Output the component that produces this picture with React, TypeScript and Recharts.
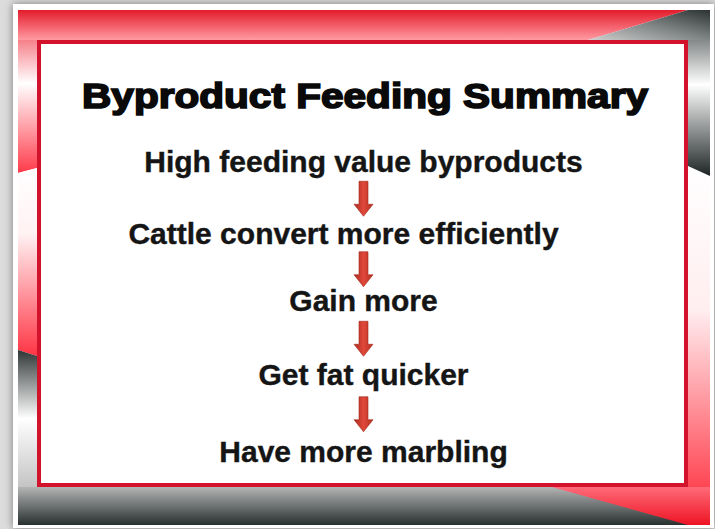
import React from 'react';
import { ScatterChart, Scatter, XAxis, YAxis } from 'recharts';

const TITLE = 'Byproduct Feeding Summary';
const steps = [
  'High feeding value byproducts',
  'Cattle convert more efficiently',
  'Gain more',
  'Get fat quicker',
  'Have more marbling'
];
const stepOrder = [0, 1, 2, 3, 4];

const W = 715;
const H = 529;
const FONT = "'Liberation Sans', Arial, Helvetica, sans-serif";

const stepRows = steps.map((label, i) => ({ col: 0, order: stepOrder[i], label }));
// one arrow between each pair of consecutive steps
const arrowRows = stepOrder.slice(1).map((o, i) => ({ col: 0, order: (stepOrder[i] + o) / 2 }));

// small hand nudges so lines sit where they do on the slide
const LINE_DX = [0, -20, 0, 0, 0];
const LINE_DY = [0, -1, -6, -5, 0];
const ARROW_DY = [-9, -11, -14, -11];

const renderStep = (props: any) => {
  const { cx, cy, payload } = props;
  const idx = steps.indexOf(payload.label);
  return (
    <text
      x={cx + (LINE_DX[idx] || 0)}
      y={cy + (LINE_DY[idx] || 0)}
      textAnchor="middle"
      fontFamily={FONT}
      fontWeight={700}
      fontSize={30}
      fill="#151515"
      stroke="#151515"
      strokeWidth={0.4}
    >
      {payload.label}
    </text>
  );
};

const renderArrow = (props: any) => {
  const { cx, cy, payload } = props;
  const idx = Math.floor(payload.order);
  const mid = cy + (ARROW_DY[idx] ?? -11);
  const top = mid - 18;
  const tip = mid + 17;
  const head = tip - 12;
  const d = `M${cx - 4.5},${top} L${cx + 4.5},${top} L${cx + 4.5},${head} L${cx + 9.5},${head} L${cx},${tip} L${cx - 9.5},${head} L${cx - 4.5},${head} Z`;
  return <path d={d} fill="url(#arrowFill)" stroke="#a32a1d" strokeWidth={0.6} />;
};

const Frame = () => (
  <svg width={W} height={H} style={{ position: 'absolute', left: 0, top: 0 }}>
    <defs>
      <filter id="pageShadow" x="-5%" y="-5%" width="110%" height="110%">
        <feDropShadow dx="0" dy="0" stdDeviation="4" floodColor="#000" floodOpacity="0.45" />
      </filter>
      <linearGradient id="topRed" x1="0" y1="0" x2="0" y2="1">
        <stop offset="0" stopColor="#e41c2c" />
        <stop offset="1" stopColor="#ff9aa2" />
      </linearGradient>
      <linearGradient id="topGray" x1="0" y1="1" x2="1" y2="0">
        <stop offset="0" stopColor="#d0d0d0" />
        <stop offset="0.6" stopColor="#707676" />
        <stop offset="1" stopColor="#2c3232" />
      </linearGradient>
      <linearGradient id="leftA" x1="0" y1="0" x2="0" y2="1">
        <stop offset="0" stopColor="#f02838" />
        <stop offset="0.45" stopColor="#ffffff" />
        <stop offset="1" stopColor="#ff3a4a" />
      </linearGradient>
      <linearGradient id="leftB" x1="0" y1="0" x2="0" y2="1">
        <stop offset="0" stopColor="#ffffff" />
        <stop offset="0.35" stopColor="#fff2f3" />
        <stop offset="1" stopColor="#ff3444" />
      </linearGradient>
      <linearGradient id="leftC" x1="0" y1="0" x2="0" y2="1">
        <stop offset="0" stopColor="#2e3434" />
        <stop offset="0.5" stopColor="#ffffff" />
        <stop offset="1" stopColor="#c4c4c4" />
      </linearGradient>
      <linearGradient id="rightA" x1="0" y1="0" x2="0" y2="1">
        <stop offset="0" stopColor="#323838" />
        <stop offset="0.45" stopColor="#ffffff" />
        <stop offset="1" stopColor="#1e2424" />
      </linearGradient>
      <linearGradient id="rightB" x1="0" y1="0" x2="0" y2="1">
        <stop offset="0" stopColor="#ffffff" />
        <stop offset="0.4" stopColor="#ffeef0" />
        <stop offset="1" stopColor="#ff2232" />
      </linearGradient>
      <linearGradient id="bottomGray" x1="0" y1="0" x2="0" y2="1">
        <stop offset="0" stopColor="#b4b4b4" />
        <stop offset="1" stopColor="#283030" />
      </linearGradient>
      <linearGradient id="bottomRed" x1="0" y1="0" x2="0" y2="1">
        <stop offset="0" stopColor="#ff6a78" />
        <stop offset="1" stopColor="#ee1424" />
      </linearGradient>
      <linearGradient id="arrowFill" x1="0" y1="0" x2="1" y2="0">
        <stop offset="0" stopColor="#a82a1e" />
        <stop offset="0.5" stopColor="#e0483a" />
        <stop offset="1" stopColor="#b42e20" />
      </linearGradient>
    </defs>
    <rect width={W} height={H} fill="#dcdcdc" />
    <rect x={13} y={4} width={701} height={524} fill="#ffffff" filter="url(#pageShadow)" />

    {/* slide frame bands */}
    <rect x={18} y={487} width={692} height={38} fill="url(#bottomGray)" />
    <polygon points="688,166 710,176 710,525 688,525" fill="url(#rightB)" />
    <polygon points="552,487 710,487 710,525 688,525" fill="url(#bottomRed)" />
    <polygon points="688,10 710,10 710,176 688,166" fill="url(#rightA)" />
    <polygon points="18,10 37,10 37,168 18,173" fill="url(#leftA)" />
    <polygon points="18,173 37,168 37,356 18,350" fill="url(#leftB)" />
    <polygon points="18,350 37,356 37,487 18,487" fill="url(#leftC)" />
    <polygon points="18,10 688,10 588,40 18,40" fill="url(#topRed)" />
    <polygon points="588,40 688,10 710,10 710,40" fill="url(#topGray)" />

    {/* white panel with red border */}
    <rect x={39} y={42} width={647} height={443} fill="#ffffff" stroke="#d3122c" strokeWidth={4} />

    <text
      x={365}
      y={108}
      textAnchor="middle"
      fontFamily={FONT}
      fontWeight={700}
      fontSize={35}
      textLength={566}
      lengthAdjust="spacingAndGlyphs"
      fill="#0a0a0a"
      stroke="#0a0a0a"
      strokeWidth={1.7}
    >
      {TITLE}
    </text>
  </svg>
);

export default function App() {
  return (
    <div style={{ position: 'absolute', left: 0, top: 0, width: W, height: H, overflow: 'hidden' }}>
      <Frame />
      <div style={{ position: 'absolute', left: 0, top: 0 }}>
        <ScatterChart width={W} height={H} margin={{ top: 172, right: 0, bottom: 67, left: 12 }}>
          <XAxis type="number" dataKey="col" domain={[-1, 1]} hide />
          <YAxis type="number" dataKey="order" domain={[0, steps.length - 1]} reversed hide />
          <Scatter data={arrowRows} shape={renderArrow} isAnimationActive={false} />
          <Scatter data={stepRows} shape={renderStep} isAnimationActive={false} />
        </ScatterChart>
      </div>
    </div>
  );
}
